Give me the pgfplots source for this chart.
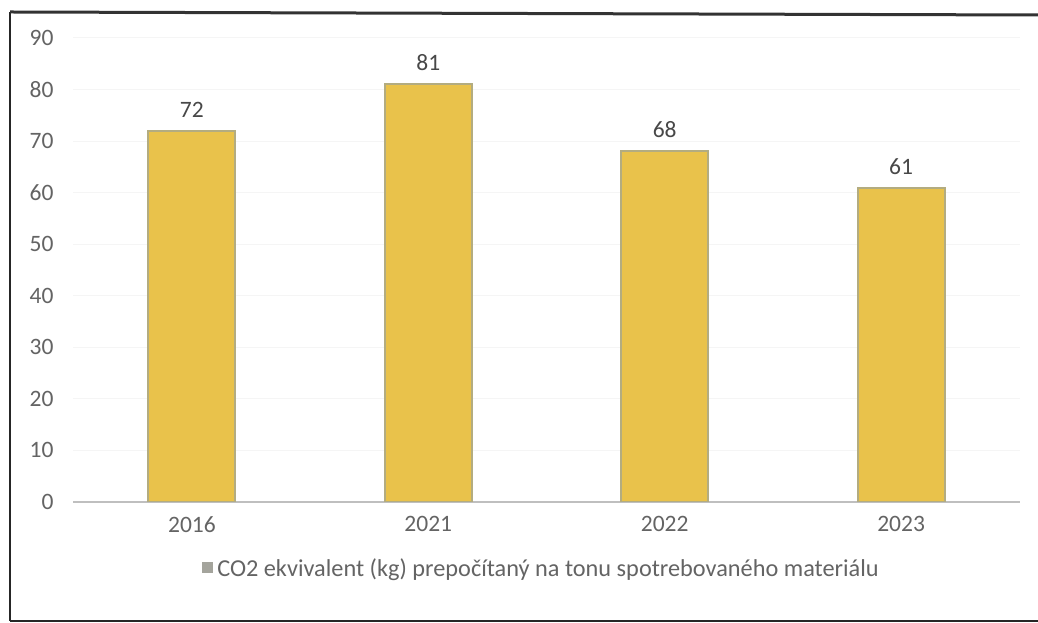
\documentclass[border=0pt]{standalone}
\usepackage{pgfplots}
\pgfplotsset{compat=1.18}
\usepackage{fontspec}
\setmainfont{Carlito}
\definecolor{barfill}{HTML}{E9C24B}
\definecolor{baredge}{HTML}{B3AC80}
\definecolor{labelgray}{HTML}{646464}
\definecolor{valgray}{HTML}{484848}
\definecolor{axisgray}{HTML}{BFBFBF}
\definecolor{keygray}{HTML}{A4A49C}
\begin{document}
\begin{tikzpicture}[x=1pt,y=1pt]
\useasboundingbox (0,0) rectangle (1038,623);
\fill[white] (0,0) rectangle (1038,623);
\begin{axis}[
  at={(73pt,121pt)}, anchor=south west,
  scale only axis, width=947pt, height=464pt,
  xmin=-0.503, xmax=3.503, ymin=0, ymax=90,
  axis lines*=left,
  y axis line style={draw=none},
  x axis line style={draw=axisgray, line width=1.5pt},
  major tick length=0pt,
  ytick={0,10,...,90},
  xtick={0,1,2,3},
  xticklabels={2016,2021,2022,2023},
  ymajorgrids, grid style={black!4, line width=1pt},
  tick label style={font=\fontsize{23.5}{26}\selectfont, text=labelgray},
  /pgf/number format/assume math mode=true,
  yticklabel style={xshift=-16pt},
  xticklabel style={yshift=-11pt},
  ybar, bar width=87pt,
  nodes near coords,
  nodes near coords style={font=\fontsize{23.5}{26}\selectfont, text=valgray, yshift=9pt},
  legend style={at={(0.5,0)}, anchor=center, yshift=-66pt, xshift=-5pt, draw=none, fill=none,
    font=\fontsize{24.3}{27}\selectfont, text=labelgray},
]
\addplot[fill=barfill, draw=baredge, line width=2pt,
  legend image code/.code={\fill[keygray] (0pt,-4.5pt) rectangle (9pt,4.5pt);}]
  coordinates {(0,72) (1,81) (2,68) (3,61)};
\addlegendentry{\hspace{2pt}CO2 ekvivalent (kg) prepočítaný na tonu spotrebovaného materiálu}
\end{axis}
% outer frame of the chart area
\draw[black!85, line width=2pt] (10,2) -- (10,611);
\draw[black!80, line width=3pt] (10,611) -- (1038,608);
\draw[black!85, line width=2pt] (10,2) -- (1038,2);
\end{tikzpicture}
\end{document}
